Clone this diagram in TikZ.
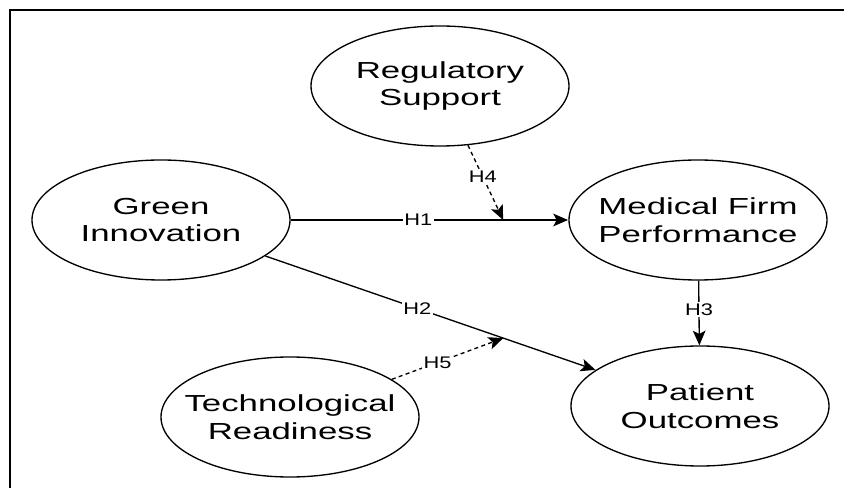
\documentclass[tikz,border=0pt]{standalone}
\usepackage{fontspec}
\setmainfont{Liberation Sans}
\usetikzlibrary{shapes.geometric,arrows.meta,calc}

\begin{document}
\begin{tikzpicture}[x=0.75pt,y=-0.75pt,
  construct/.style={ellipse, draw=black, line width=1pt, xscale=1.5,
    minimum width=129pt, minimum height=90pt, inner xsep=-30pt, inner ysep=0pt,
    align=center, font=\fontsize{17.4}{20.8}\selectfont},
  hyp/.style={-{Stealth[length=11pt,width=9.5pt,inset=2.5pt]}, line width=1pt},
  moder/.style={hyp, dash pattern=on 3pt off 2.5pt},
  hlabel/.style={fill=white, inner sep=1pt, xscale=1.3,
    font=\fontsize{12.6}{14}\selectfont}]
\useasboundingbox (0,0) rectangle (844,488);
% frame
\draw[line width=1.9pt, line join=miter] (10,488) -- (10,10) -- (844,10);

\node[construct] (rs) at (440,86) {Regulatory\\Support};
\node[construct] (gi) at (161,220) {Green\\Innovation};
\node[construct] (mfp) at (698,220) {Medical Firm\\Performance};
\node[construct] (tr) at (290,417) {Technological\\Readiness};
\node[construct] (po) at (700,406) {Patient\\Outcomes};

\coordinate (h4end) at ($(gi.east)!0.766!(mfp.west)$);
\coordinate (h5end) at ($(gi)!0.635!(po)$);

\draw[hyp] (gi.east) -- node[hlabel, pos=0.46] {H1} (mfp.west);
\draw[hyp] (gi) -- node[hlabel, pos=0.46] {H2} (po);
\draw[hyp] (mfp) -- node[hlabel, pos=0.45] {H3} (po);
\draw[moder] (rs) -- node[hlabel, pos=0.42] {H4} (h4end);
\draw[moder] (tr) -- node[hlabel, pos=0.41] {H5} (h5end);
\end{tikzpicture}
\end{document}
